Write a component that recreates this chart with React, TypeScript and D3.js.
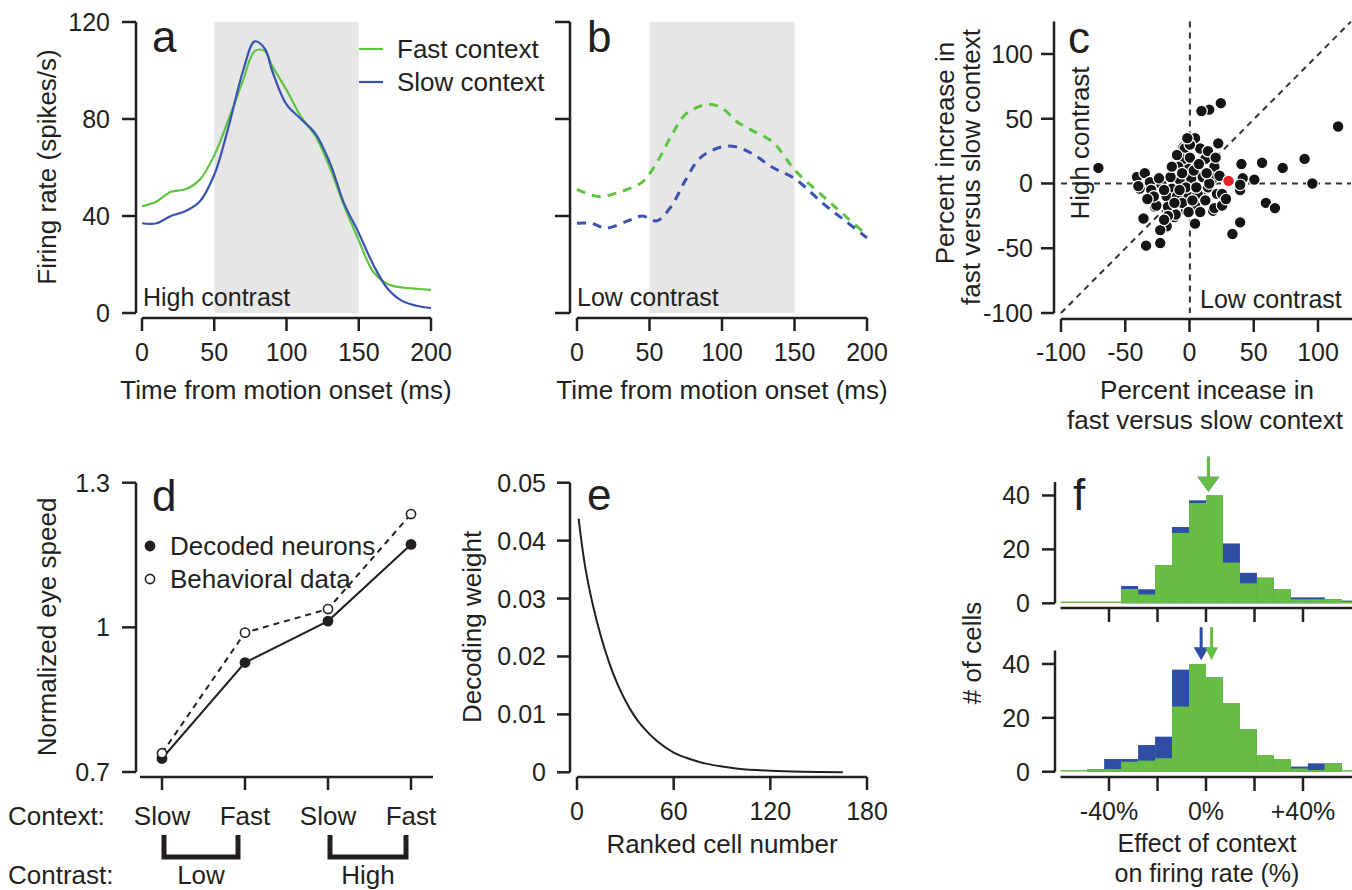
import React from 'react';
import * as d3 from 'd3';

const FONT = '"Liberation Sans", Arial, Helvetica, sans-serif';
const INK = '#231f20';
const GREEN_LINE = '#5ec540';
const BLUE_LINE = '#3a53b3';
const GREEN_FILL = '#68bd45';
const BLUE_FILL = '#2e4ea4';
const GRAY = '#e6e6e6';

// ---- Panel a (high contrast) ----
const timeA = [0, 10, 20, 30, 40, 50, 60, 70, 78, 85, 90, 100, 110, 120, 130, 140, 150, 160, 170, 180, 190, 200];
const fastHigh = [44, 46, 50, 51, 55, 65, 80, 96, 108, 108, 102, 92, 81, 73, 60, 44, 30, 17, 12, 10.5, 10, 9.5];
const slowHigh = [37, 37, 40, 42, 46, 57, 77, 100, 112, 109, 100, 86, 80, 74, 62, 45, 33, 20, 10, 5, 3, 2];

// ---- Panel b (low contrast) ----
const timeBFast = [0, 15, 30, 45, 55, 65, 75, 90, 100, 110, 120, 135, 145, 150, 170, 185, 200];
const fastLow = [51, 48, 50, 54, 62, 73, 82, 86, 84.5, 79, 75.5, 70.5, 63, 59, 48, 40, 32];
const timeBSlow = [0, 10, 20, 35, 45, 55, 65, 75, 85, 100, 110, 120, 135, 150, 170, 185, 200];
const slowLow = [37, 37, 35, 38, 40, 38, 44, 55, 64, 68.5, 68.5, 66, 60, 55.5, 45, 38, 31];

const rateTicks = [0, 40, 80, 120];
const timeTicks = [0, 50, 100, 150, 200];
const analysisWindow = [50, 150];

// ---- Panel c (scatter) ----
const scatterPts: [number, number][] = [
  [-71, 12], [115, 44], [89, 19], [95, 0], [72, 12], [56, 16], [40, 15], [41, 4], [50, 3], [59, -15], [66, -19],
  [39, -30], [33, -39], [39, -5], [24, 62], [15, 57], [9, 56], [22, 31],
  [-34, -48], [-23, -46], [-36, -27], [-41, 5], [-39, -4], [-27, -18], [-18, -33], [-23, -36], [-12, -26],
  [-3, -21], [4, -31], [18, -21], [-5, 28], [4, 35], [10, 26], [11, 18], [-3, 13], [1, 4], [9, -10], [18, 11],
  [-4, 27], [8, 27], [12, 19], [-5, 19], [-9, 13], [19, 13], [-35, 8], [-31, 1], [-22, -1], [-14, -4], [-8, 3],
  [10, 5], [18, 4], [23, 6], [39, -1], [-30, -5], [-18, -10], [-10, -10], [-1, -10], [6, -8], [14, -3], [21, -8],
  [-26, -17], [-17, -18], [-6, -15], [4, -17], [19, -19], [25, -17], [-11, -24], [-1, -22],
  [-15, 5], [-20, -5], [0, 20], [3, 10], [-6, 8], [7, 15], [15, 0], [-3, -3], [5, -3], [12, -13], [-12, -15],
  [-8, -5], [2, -13], [13, 8], [-17, -25], [8, -22], [-28, -10], [-33, -12], [-20, -28], [0, 30], [14, 25],
  [-10, 22], [20, 20], [25, -8], [-24, 4], [-2, 35], [-14, 13], [28, -12], [-40, -2],
];
const examplePt: [number, number] = [30, 2];
const pctTicks = [-100, -50, 0, 50, 100];

// ---- Panel d ----
const contexts = ['Slow', 'Fast', 'Slow', 'Fast'];
const contrastGroups = ['Low', 'High'];
const decodedSpeed = [0.728, 0.927, 1.013, 1.172];
const behavioralSpeed = [0.739, 0.989, 1.038, 1.235];
const speedTicks = [0.7, 1, 1.3];
const speedTickLabels = ['0.7', '1', '1.3'];

// ---- Panel e ----
const rankedCell = [1, 5, 10, 15, 20, 25, 30, 35, 40, 50, 60, 70, 80, 90, 100, 120, 140, 165];
const decodingWeight = [0.0438, 0.0356, 0.0287, 0.0233, 0.0189, 0.0153, 0.0124, 0.0100, 0.0081, 0.0053, 0.0034, 0.0023, 0.0015, 0.0010, 0.00063, 0.00027, 0.0001, 0.00003];
const weightTicks = [0, 0.01, 0.02, 0.03, 0.04, 0.05];
const cellTicks = [0, 60, 120, 180];

// ---- Panel f ----
const binStarts = [-49, -42, -35, -28, -21, -14, -7, 0, 7, 14, 21, 28, 35, 42, 49, 56];
const binWidth = 7;
const topGreen = [0, 0, 5.3, 3.3, 14.2, 26.1, 37.2, 40, 15.1, 7.4, 9.5, 5.3, 1.5, 1.5, 1.5, 0];
const topBlue = [0, 0, 6.4, 5.2, 14, 28.3, 38.2, 40, 22.2, 11.3, 9.5, 5.3, 2.2, 2.2, 1.5, 1];
const botGreen = [0.9, 1, 3.7, 4.1, 5, 24.2, 40, 35, 25.5, 15.8, 6.2, 4.7, 1.2, 0, 3.1, 0];
const botBlue = [0.9, 4.7, 4.7, 9.9, 13, 37.9, 40, 35, 25.5, 15.8, 6.2, 4.7, 1.9, 3.1, 3.1, 0];
const topMeans = { blue: 1, green: 1 };
const botMeans = { blue: -2, green: 2.3 };
const countTicks = [0, 20, 40];
const effectTicks = [-40, -20, 0, 20, 40];
const effectLabels: Record<number, string> = { [-40]: '-40%', [0]: '0%', [40]: '+40%' };

const AX = 2.5;

function LeftAxis({ x, y0, y1, ticks, scale, labels, tickLen = 14, gap = 12, fs = 25 }: any) {
  return (
    <g>
      <line x1={x} x2={x} y1={y0} y2={y1} stroke={INK} strokeWidth={AX} />
      {ticks.map((t: number, i: number) => (
        <g key={i}>
          <line x1={x - tickLen} x2={x} y1={scale(t)} y2={scale(t)} stroke={INK} strokeWidth={AX} />
          {labels && (
            <text x={x - tickLen - gap} y={scale(t) + fs * 0.36} textAnchor="end" fontSize={fs} fill={INK}>
              {labels[i]}
            </text>
          )}
        </g>
      ))}
    </g>
  );
}

function BottomAxis({ y, x0, x1, ticks, scale, labels, tickLen = 13, labelBase, fs = 25 }: any) {
  return (
    <g>
      <line x1={x0} x2={x1} y1={y} y2={y} stroke={INK} strokeWidth={AX} />
      {ticks.map((t: number, i: number) => (
        <g key={i}>
          <line x1={scale(t)} x2={scale(t)} y1={y} y2={y + tickLen} stroke={INK} strokeWidth={AX} />
          {labels && labels[i] != null && (
            <text x={scale(t)} y={labelBase} textAnchor="middle" fontSize={fs} fill={INK}>
              {labels[i]}
            </text>
          )}
        </g>
      ))}
    </g>
  );
}

export default function App() {
  // panel a/b scales
  const xA = d3.scaleLinear().domain([0, 200]).range([142, 431]);
  const xB = d3.scaleLinear().domain([0, 200]).range([577, 867]);
  const yR = d3.scaleLinear().domain([0, 120]).range([313, 22]);
  const lineA = (xs: number[], ys: number[], xsc: any) =>
    d3.line<number>().x((_, i) => xsc(xs[i])).y((d) => yR(d)).curve(d3.curveCatmullRom.alpha(0.5))(ys) || '';

  // panel c
  const xC = d3.scaleLinear().domain([-100, 125]).range([1061, 1351]);
  const yC = d3.scaleLinear().domain([-100, 125]).range([313, 21.6]);
  const xC0 = d3.scaleLinear().domain([-100, 100]).range([1061, 1318]);

  // panel d
  const xD = d3.scalePoint<number>().domain([0, 1, 2, 3]).range([140, 433]).padding(0.265);
  const yD = d3.scaleLinear().domain([0.7, 1.3]).range([772, 482.7]);
  const lineD = d3.line<number>().x((_, i) => xD(i) as number).y((d) => yD(d));

  // panel e
  const xE = d3.scaleLinear().domain([0, 180]).range([577, 867]);
  const yE = d3.scaleLinear().domain([0, 0.05]).range([772.3, 482.7]);
  const lineE = d3.line<number>().x((_, i) => xE(rankedCell[i])).y((d) => yE(d)).curve(d3.curveCatmullRom.alpha(0.5));

  // panel f
  const xF = d3.scaleLinear().domain([0, 40]).range([1206, 1303]);
  const yFt = d3.scaleLinear().domain([0, 45]).range([603.3, 482]);
  const yFb = d3.scaleLinear().domain([0, 45]).range([771.7, 650.5]);

  const hist = (vals: number[], ysc: any, color: string, key: string) =>
    vals.map((v, i) =>
      v > 0 ? (
        <rect key={key + i} x={xF(binStarts[i])} width={xF(binStarts[i] + binWidth) - xF(binStarts[i])}
          y={ysc(v)} height={ysc(0) - ysc(v)} fill={color} />
      ) : null
    );

  const arrow = (mean: number, ysc: any, color: string, headW: number, headH: number, shaft: number, key: string) => {
    const x = xF(mean);
    const tip = ysc(41.4);
    return (
      <g key={key}>
        <line x1={x} x2={x} y1={tip - headH - shaft} y2={tip - headH + 1} stroke={color} strokeWidth={3} />
        <path d={`M${x - headW / 2},${tip - headH} L${x + headW / 2},${tip - headH} L${x},${tip} Z`} fill={color} />
      </g>
    );
  };

  return (
    <svg width={1352} height={890} style={{ position: 'absolute', left: 0, top: 0, background: '#fff' }}
      fontFamily={FONT}>
      <rect x={0} y={0} width={1352} height={890} fill="#fff" />

      {/* ===== Panel a ===== */}
      <rect x={xA(analysisWindow[0])} y={yR(120)} width={xA(analysisWindow[1]) - xA(analysisWindow[0])}
        height={yR(0) - yR(120)} fill={GRAY} />
      <path d={lineA(timeA, fastHigh, xA)} fill="none" stroke={GREEN_LINE} strokeWidth={2.2} />
      <path d={lineA(timeA, slowHigh, xA)} fill="none" stroke={BLUE_LINE} strokeWidth={2.2} />
      <LeftAxis x={136} y0={yR(120)} y1={yR(0)} ticks={rateTicks} scale={yR} labels={rateTicks.map(String)} />
      <BottomAxis y={318} x0={xA(0)} x1={xA(200)} ticks={timeTicks} scale={xA} labels={timeTicks.map(String)} labelBase={361} />
      <text x={152} y={52} fontSize={44} fill={INK}>a</text>
      <text x={143} y={306} fontSize={25} fill={INK}>High contrast</text>
      <text transform="translate(56,167) rotate(-90)" textAnchor="middle" fontSize={26} fill={INK}>Firing rate (spikes/s)</text>
      <text x={286} y={399} textAnchor="middle" fontSize={26} fill={INK}>Time from motion onset (ms)</text>
      <line x1={359} x2={383} y1={49} y2={49} stroke={GREEN_LINE} strokeWidth={2.2} />
      <line x1={359} x2={383} y1={82} y2={82} stroke={BLUE_LINE} strokeWidth={2.2} />
      <text x={397} y={58} fontSize={26} fill={INK}>Fast context</text>
      <text x={397} y={91} fontSize={26} fill={INK}>Slow context</text>

      {/* ===== Panel b ===== */}
      <rect x={xB(analysisWindow[0])} y={yR(120)} width={xB(analysisWindow[1]) - xB(analysisWindow[0])}
        height={yR(0) - yR(120)} fill={GRAY} />
      <path d={lineA(timeBFast, fastLow, xB)} fill="none" stroke={GREEN_LINE} strokeWidth={3} strokeDasharray="9 7" />
      <path d={lineA(timeBSlow, slowLow, xB)} fill="none" stroke={BLUE_LINE} strokeWidth={3} strokeDasharray="9 7" />
      <LeftAxis x={570} y0={yR(120)} y1={yR(0)} ticks={rateTicks} scale={yR} tickLen={15} />
      <BottomAxis y={318} x0={xB(0)} x1={xB(200)} ticks={timeTicks} scale={xB} labels={timeTicks.map(String)} labelBase={361} />
      <text x={587} y={52} fontSize={44} fill={INK}>b</text>
      <text x={577} y={306} fontSize={25} fill={INK}>Low contrast</text>
      <text x={722} y={399} textAnchor="middle" fontSize={26} fill={INK}>Time from motion onset (ms)</text>

      {/* ===== Panel c ===== */}
      <line x1={xC(0)} x2={xC(0)} y1={yC(125)} y2={yC(-100)} stroke="#333" strokeWidth={2} strokeDasharray="6 5" />
      <line x1={xC(-100)} x2={xC(125)} y1={yC(0)} y2={yC(0)} stroke="#333" strokeWidth={2} strokeDasharray="6 5" />
      <line x1={xC(-100)} x2={xC(125)} y1={yC(-100)} y2={yC(125)} stroke="#333" strokeWidth={2} strokeDasharray="6 5" />
      {scatterPts.map((p, i) => (
        <circle key={i} cx={xC(p[0])} cy={yC(p[1])} r={5.8} fill="#141414" stroke="#fff" strokeWidth={1.2} />
      ))}
      <circle cx={xC(examplePt[0])} cy={yC(examplePt[1])} r={5.8} fill="#e8202a" stroke="#fff" strokeWidth={1.2} />
      <LeftAxis x={1054} y0={yC(125)} y1={yC(-100)} ticks={pctTicks} scale={yC} labels={pctTicks.map(String)} tickLen={13} gap={8} />
      <BottomAxis y={319} x0={xC(-100)} x1={1352} ticks={pctTicks} scale={xC0} labels={pctTicks.map(String)} labelBase={361} />
      <text x={1068} y={53} fontSize={44} fill={INK}>c</text>
      <text transform="translate(1089,143) rotate(-90)" textAnchor="middle" fontSize={26} fill={INK}>High contrast</text>
      <text x={1200} y={308} fontSize={25} fill={INK}>Low contrast</text>
      <text transform="translate(954,153) rotate(-90)" textAnchor="middle" fontSize={26} fill={INK}>Percent increase in</text>
      <text transform="translate(980,167) rotate(-90)" textAnchor="middle" fontSize={26} fill={INK}>fast versus slow context</text>
      <text x={1207} y={399} textAnchor="middle" fontSize={26} fill={INK}>Percent incease in</text>
      <text x={1205} y={429} textAnchor="middle" fontSize={26} fill={INK}>fast versus slow context</text>

      {/* ===== Panel d ===== */}
      <path d={lineD(behavioralSpeed) || ''} fill="none" stroke={INK} strokeWidth={2} strokeDasharray="6 5" />
      <path d={lineD(decodedSpeed) || ''} fill="none" stroke={INK} strokeWidth={2} />
      {decodedSpeed.map((v, i) => (
        <circle key={'dd' + i} cx={xD(i)} cy={yD(v)} r={5.4} fill={INK} />
      ))}
      {behavioralSpeed.map((v, i) => (
        <circle key={'bd' + i} cx={xD(i)} cy={yD(v)} r={4.6} fill="#fff" stroke={INK} strokeWidth={1.6} />
      ))}
      <LeftAxis x={136} y0={yD(1.3)} y1={yD(0.7)} ticks={speedTicks} scale={yD} labels={speedTickLabels} />
      <BottomAxis y={777} x0={140} x1={433} ticks={[0, 1, 2, 3]} scale={xD} labels={contexts} labelBase={825} fs={26} />
      <text x={8} y={825} fontSize={26} fill={INK}>Context:</text>
      <text x={8} y={884} fontSize={26} fill={INK}>Contrast:</text>
      {contrastGroups.map((g, gi) => {
        const a = (xD(gi * 2) as number) + 2;
        const b = (xD(gi * 2 + 1) as number) - (gi === 0 ? 7 : 5);
        return (
          <g key={g}>
            <path d={`M${a},835 L${a},857 L${b},857 L${b},835`} fill="none" stroke={INK} strokeWidth={5} />
            <text x={(a + b) / 2} y={884} textAnchor="middle" fontSize={26} fill={INK}>{g}</text>
          </g>
        );
      })}
      <text x={152} y={511} fontSize={44} fill={INK}>d</text>
      <circle cx={150} cy={546} r={5.4} fill={INK} />
      <circle cx={150} cy={579} r={4.6} fill="#fff" stroke={INK} strokeWidth={1.6} />
      <text x={170} y={555} fontSize={26} fill={INK}>Decoded neurons</text>
      <text x={170} y={588} fontSize={26} fill={INK}>Behavioral data</text>
      <text transform="translate(56,627) rotate(-90)" textAnchor="middle" fontSize={26} fill={INK}>Normalized eye speed</text>

      {/* ===== Panel e ===== */}
      <path d={lineE(decodingWeight) || ''} fill="none" stroke={INK} strokeWidth={2} />
      <LeftAxis x={570} y0={yE(0.05)} y1={yE(0)} ticks={weightTicks} scale={yE}
        labels={weightTicks.map((t) => (t === 0 ? '0' : t.toFixed(2)))} tickLen={13} gap={11} />
      <BottomAxis y={777} x0={xE(0)} x1={xE(180)} ticks={cellTicks} scale={xE} labels={cellTicks.map(String)} labelBase={820} />
      <text x={587} y={510} fontSize={44} fill={INK}>e</text>
      <text transform="translate(481,627) rotate(-90)" textAnchor="middle" fontSize={26} fill={INK}>Decoding weight</text>
      <text x={722} y={853} textAnchor="middle" fontSize={26} fill={INK}>Ranked cell number</text>

      {/* ===== Panel f ===== */}
      {hist(topBlue, yFt, BLUE_FILL, 'tb')}
      {hist(topGreen, yFt, GREEN_FILL, 'tg')}
      <line x1={xF(-60)} x2={1352} y1={yFt(0) - 1} y2={yFt(0) - 1} stroke={GREEN_FILL} strokeWidth={1.5} />
      {arrow(topMeans.blue, yFt, BLUE_FILL, 22, 15, 20, 'atb')}
      {arrow(topMeans.green, yFt, GREEN_FILL, 22, 15, 20, 'atg')}
      {hist(botBlue, yFb, BLUE_FILL, 'bb')}
      {hist(botGreen, yFb, GREEN_FILL, 'bg')}
      <line x1={xF(-60)} x2={1352} y1={yFb(0) - 1} y2={yFb(0) - 1} stroke={GREEN_FILL} strokeWidth={1.5} />
      {arrow(botMeans.blue, yFb, BLUE_FILL, 15, 13, 20, 'abb')}
      {arrow(botMeans.green, yFb, GREEN_FILL, 13, 13, 20, 'abg')}
      <LeftAxis x={1055} y0={482} y1={yFt(0)} ticks={countTicks} scale={yFt} labels={countTicks.map(String)} tickLen={13} gap={12} />
      <LeftAxis x={1055} y0={650.5} y1={yFb(0)} ticks={countTicks} scale={yFb} labels={countTicks.map(String)} tickLen={13} gap={12} />
      <BottomAxis y={608} x0={xF(-60)} x1={1352} ticks={effectTicks} scale={xF} tickLen={14} />
      <BottomAxis y={777} x0={xF(-60)} x1={1352} ticks={effectTicks} scale={xF} tickLen={14}
        labels={effectTicks.map((t) => effectLabels[t])} labelBase={820} />
      <text x={1073} y={510} fontSize={44} fill={INK}>f</text>
      <text transform="translate(981,653) rotate(-90)" textAnchor="middle" fontSize={26} fill={INK}># of cells</text>
      <text x={1207} y={852} textAnchor="middle" fontSize={25} fill={INK}>Effect of context</text>
      <text x={1207} y={882} textAnchor="middle" fontSize={25} fill={INK}>on firing rate (%)</text>
    </svg>
  );
}
